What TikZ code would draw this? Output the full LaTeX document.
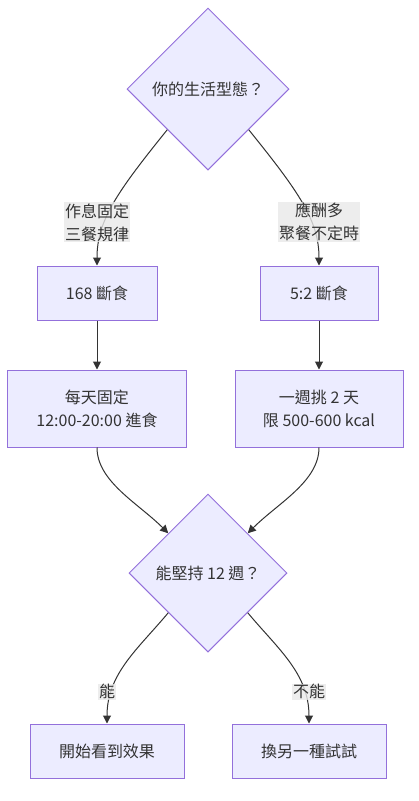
\documentclass[tikz,border=0pt]{standalone}
\usepackage{fontspec}
\setmainfont{Noto Sans CJK TC}
\usepackage{tikz}
\usepackage{xcolor}
\usetikzlibrary{
  positioning,
  shapes.geometric,
  arrows.meta
}
\definecolor{boxfill}{HTML}{ECECFF}
\definecolor{boxline}{HTML}{9370DB}
\definecolor{edgeline}{HTML}{333333}
\definecolor{labelbg}{HTML}{E8E8E8}

\begin{document}
\begin{tikzpicture}[x=1pt, y=1pt, every node/.style={font=\fontsize{16pt}{23pt}\selectfont, text=edgeline}, align=center,
  decision/.style={diamond, aspect=1, draw=boxline, fill=boxfill, line width=1pt, inner sep=0pt},
  stepbox/.style={draw=boxline, fill=boxfill, line width=1pt, rectangle, inner sep=0pt, minimum height=54pt},
  edgelabel/.style={fill=labelbg, fill opacity=0.8, text opacity=1, inner sep=1pt},
  arrow/.style={-{Triangle[length=8pt, width=8pt]}, draw=edgeline, line width=1pt}
]
\useasboundingbox (0,0) rectangle (419,-801);

% Nodes
\node[decision, minimum width=162pt, minimum height=162pt] (life) at (208,-89) {你的生活型態？};
\node[stepbox, minimum width=120pt] (fast168) at (97,-293) {168 斷食};
\node[stepbox, minimum width=118pt] (fast52) at (319,-293) {5:2 斷食};
\node[stepbox, minimum width=179pt, minimum height=77pt, below=49pt of fast168] (daily) {每天固定\\12:00-20:00 進食};
\node[stepbox, minimum width=168pt, minimum height=77pt, below=49pt of fast52] (weekly) {一週挑 2 天\\限 500-600 kcal};
\node[decision, minimum width=158pt, minimum height=158pt] (keep) at (208,-573) {能堅持 12 週？};
\node[stepbox, minimum width=154pt] (result) at (107,-751) {開始看到效果};
\node[stepbox, minimum width=154pt] (switch) at (309,-751) {換另一種試試};

% Arrows
\draw[arrow] (life.south west) .. controls +(-50,-62) and +(0,45) .. (fast168.north);
\draw[arrow] (life.south east) .. controls +(50,-62) and +(0,45) .. (fast52.north);
\draw[arrow] (fast168) -- (daily);
\draw[arrow] (fast52) -- (weekly);
\draw[arrow] (daily.south) .. controls +(0,-34) and +(-30,30) .. (keep.north west);
\draw[arrow] (weekly.south) .. controls +(0,-34) and +(30,30) .. (keep.north east);
\draw[arrow] (keep.south west) .. controls +(-30,-36) and +(0,50) .. (result.north);
\draw[arrow] (keep.south east) .. controls +(30,-36) and +(0,50) .. (switch.north);

% Edge labels
\node[edgelabel, above=23pt of fast168] (regular) {作息固定\\三餐規律};
\node[edgelabel, above=23pt of fast52] (social) {應酬多\\聚餐不定時};
\node[edgelabel, above=23pt of result] (yes) {能};
\node[edgelabel, above=23pt of switch] (no) {不能};

\end{tikzpicture}
\end{document}
